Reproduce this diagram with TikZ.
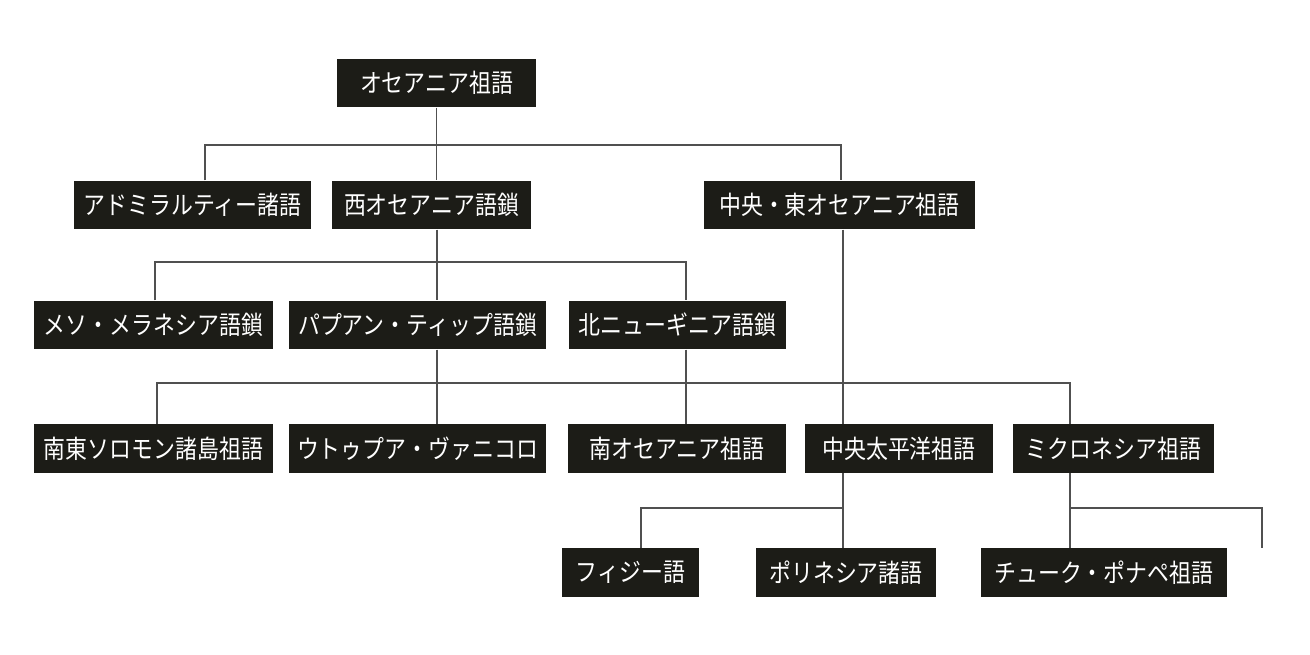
\documentclass[tikz,border=0pt]{standalone}
\usepackage{fontspec}
\newfontfamily\jpfont[FakeStretch=0.86]{Noto Sans CJK JP}
\definecolor{boxfill}{HTML}{1C1C17}
\definecolor{linegray}{HTML}{505050}
\tikzset{
  langbox/.style={fill=boxfill,text=white,inner sep=0pt,minimum height=0.97cm,
    font=\jpfont\fontsize{14.5pt}{15pt}\selectfont},
  branch/.style={linegray,line width=0.6pt}
}
\begin{document}
\begin{tikzpicture}[x=0.02cm,y=-0.02cm]
\useasboundingbox (0,0) rectangle (1310,654);
% proto language
\node[langbox,minimum width=3.98cm] (root) at (436.5,83) {オセアニア祖語};
% first split
\node[langbox,minimum width=4.74cm] (adm) at (192.5,205) {アドミラルティー諸語};
\node[langbox,minimum width=3.98cm] (west) at (431.5,205) {西オセアニア語鎖};
\node[langbox,minimum width=5.42cm] (cent) at (839.5,205) {中央・東オセアニア祖語};
% western chains
\node[langbox,minimum width=4.78cm] (meso) at (153.5,325) {メソ・メラネシア語鎖};
\node[langbox,minimum width=5.14cm] (papuan) at (417.5,325) {パプアン・ティップ語鎖};
\node[langbox,minimum width=4.34cm] (north) at (677.5,325) {北ニューギニア語鎖};
% third row
\node[langbox,minimum width=4.78cm] (sesol) at (153.5,448.5) {南東ソロモン諸島祖語};
\node[langbox,minimum width=5.14cm] (utu) at (417.5,448.5) {ウトゥプア・ヴァニコロ};
\node[langbox,minimum width=4.36cm] (south) at (677,448.5) {南オセアニア祖語};
\node[langbox,minimum width=3.76cm] (cpac) at (899,448.5) {中央太平洋祖語};
\node[langbox,minimum width=4.02cm] (micro) at (1113.5,448.5) {ミクロネシア祖語};
% bottom row
\node[langbox,minimum width=2.74cm] (fiji) at (630.5,572.5) {フィジー語};
\node[langbox,minimum width=3.60cm] (poly) at (846,572.5) {ポリネシア諸語};
\node[langbox,minimum width=4.92cm] (chuuk) at (1104,572.5) {チューク・ポナペ祖語};
\coordinate (open) at (1262,548);
% root -> first split
\draw[branch] (root.south) -- (root.south |- west.north);
\draw[branch] (adm.north -| 205,0) |- (841,145) -- (cent.north -| 841,0);
% west -> western chains
\draw[branch] (west.south -| 437,0) -- (papuan.north -| 437,0);
\draw[branch] (meso.north -| 155,0) |- (686,262) -- (north.north -| 686,0);
% chains -> third row
\draw[branch] (papuan.south -| 437,0) -- (utu.north -| 437,0);
\draw[branch] (north.south -| 686,0) -- (south.north -| 686,0);
\draw[branch] (cent.south -| 843,0) -- (cpac.north -| 843,0);
\draw[branch] (sesol.north -| 157,0) |- (1070,383) -- (micro.north -| 1070,0);
% third row -> bottom row
\draw[branch] (cpac.south -| 843,0) -- (poly.north -| 843,0);
\draw[branch] (fiji.north -| 641,0) |- (843,508);
\draw[branch] (micro.south -| 1070,0) -- (chuuk.north -| 1070,0);
\draw[branch] (1070,508) -| (open);
\end{tikzpicture}
\end{document}
